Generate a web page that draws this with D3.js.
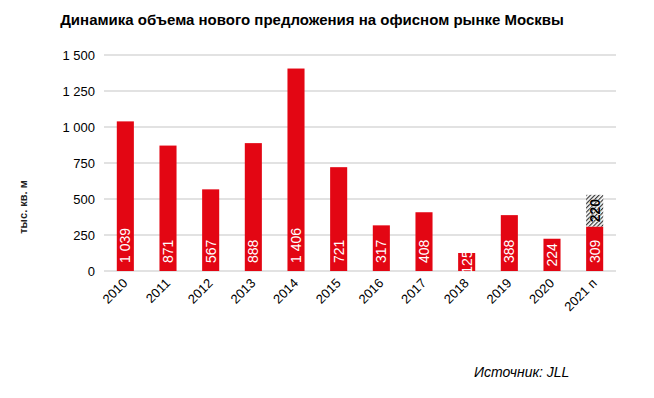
<!DOCTYPE html>
<html>
<head>
<meta charset="utf-8">
<script src="https://cdn.jsdelivr.net/npm/d3@7"></script>
<style>
  body { margin: 0; background: #fff; }
  text { font-family: "Liberation Sans", Arial, sans-serif; }
</style>
</head>
<body>
<svg id="vis" width="654" height="398"></svg>
<script>
var years = ["2010", "2011", "2012", "2013", "2014", "2015", "2016", "2017", "2018", "2019", "2020", "2021 п"];
var supply = [1039, 871, 567, 888, 1406, 721, 317, 408, 125, 388, 224, 309];
var forecastExtra = [null, null, null, null, null, null, null, null, null, null, null, 220];
var yTicks = [0, 250, 500, 750, 1000, 1250, 1500];

var margin = {left: 104, right: 38, top: 55, bottom: 127};
var width = 654, height = 398;
var red = "#e30613";

var svg = d3.select("#vis");
var fmt = function(v) { return d3.format(",")(v).replace(/,/g, " "); };

// шаблон штриховки для прогноза
var defs = svg.append("defs");
var pat = defs.append("pattern")
    .attr("id", "hatch")
    .attr("patternUnits", "userSpaceOnUse")
    .attr("width", 3)
    .attr("height", 3)
    .attr("patternTransform", "rotate(45)");
pat.append("rect").attr("width", 3).attr("height", 3).attr("fill", "#fff");
pat.append("rect").attr("width", 1.2).attr("height", 3).attr("fill", "#333");

var x = d3.scaleBand()
    .domain(years)
    .range([margin.left, width - margin.right])
    .paddingInner(0.6)
    .paddingOuter(0.3);

var y = d3.scaleLinear()
    .domain([0, 1500])
    .range([height - margin.bottom, margin.top]);

// сетка
svg.append("g")
    .selectAll("line")
    .data(yTicks)
    .enter()
    .append("line")
    .attr("x1", margin.left)
    .attr("x2", width - margin.right)
    .attr("y1", d => y(d))
    .attr("y2", d => y(d))
    .attr("stroke", "#d9d9d9")
    .attr("stroke-width", 1.5);

// подписи оси Y
var yAxis = d3.axisLeft(y).tickValues(yTicks).tickFormat(fmt).tickSize(0).tickPadding(9);
svg.append("g")
    .attr("transform", "translate(" + margin.left + ",0)")
    .call(yAxis)
    .call(g => g.select(".domain").remove())
    .selectAll("text")
    .attr("font-size", 13)
    .attr("fill", "#000")
    .attr("font-family", "Liberation Sans, Arial, sans-serif");

// столбцы
svg.append("g")
    .selectAll("rect")
    .data(supply)
    .enter()
    .append("rect")
    .attr("x", (d, i) => x(years[i]))
    .attr("y", d => y(d))
    .attr("width", x.bandwidth())
    .attr("height", d => y(0) - y(d))
    .attr("fill", red);

forecastExtra.forEach(function(d, i) {
    if (d == null) return;
    svg.append("rect")
        .attr("x", x(years[i]))
        .attr("y", y(supply[i] + d))
        .attr("width", x.bandwidth())
        .attr("height", y(0) - y(d))
        .attr("fill", "url(#hatch)");
});

// подписи значений
svg.append("g")
    .selectAll("text")
    .data(supply)
    .enter()
    .append("text")
    .attr("transform", function(d, i) {
        var cx = x(years[i]) + x.bandwidth() / 2;
        var h = y(0) - y(d);
        var yy = h > 40 ? y(0) - 8 : y(0) - h / 2;
        return "translate(" + (cx + 5) + "," + yy + ") rotate(-90)";
    })
    .attr("text-anchor", d => (y(0) - y(d)) > 40 ? "start" : "middle")
    .attr("font-size", 14)
    .attr("fill", "#fff")
    .text(d => fmt(d));

forecastExtra.forEach(function(d, i) {
    if (d == null) return;
    var cx = x(years[i]) + x.bandwidth() / 2;
    var mid = (y(supply[i]) + y(supply[i] + d)) / 2;
    svg.append("text")
        .attr("transform", "translate(" + (cx + 5) + "," + mid + ") rotate(-90)")
        .attr("text-anchor", "middle")
        .attr("font-size", 14)
        .attr("font-weight", "bold")
        .attr("fill", "#000")
        .attr("stroke", "#fff")
        .attr("stroke-width", 0.6)
        .attr("paint-order", "stroke")
        .text(d);
});

// подписи оси X
svg.append("g")
    .selectAll("text")
    .data(years)
    .enter()
    .append("text")
    .attr("transform", d => "translate(" + (x(d) + x.bandwidth() / 2 + 3) + "," + (y(0) + 13) + ") rotate(-45)")
    .attr("text-anchor", "end")
    .attr("font-size", 13)
    .attr("fill", "#000")
    .text(d => d);

// заголовки
svg.append("text")
    .attr("x", 312)
    .attr("y", 25)
    .attr("text-anchor", "middle")
    .attr("font-size", 15)
    .attr("font-weight", "bold")
    .attr("fill", "#000")
    .text("Динамика объема нового предложения на офисном рынке Москвы");

svg.append("text")
    .attr("transform", "translate(27,207) rotate(-90)")
    .attr("text-anchor", "middle")
    .attr("font-size", 11)
    .attr("font-weight", "bold")
    .attr("fill", "#222")
    .text("тыс. кв. м");

svg.append("text")
    .attr("x", 474)
    .attr("y", 377)
    .attr("font-size", 14)
    .attr("font-style", "italic")
    .attr("fill", "#000")
    .text("Источник: JLL");
</script>
</body>
</html>
